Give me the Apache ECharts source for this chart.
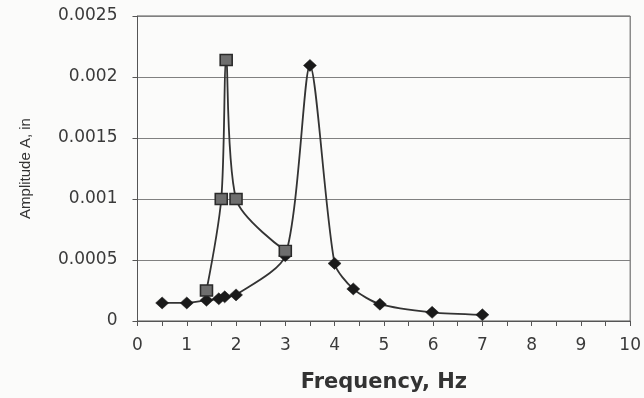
<!DOCTYPE html>
<html>
<head>
<meta charset="utf-8">
<script src="https://cdn.jsdelivr.net/npm/echarts@6/dist/echarts.min.js"></script>
<style>
html,body{margin:0;padding:0;background:#fbfbfa;}
#chart{width:644px;height:398px;}
</style>
</head>
<body>
<div id="chart"></div>
<script>
// Square-marker series (frequency Hz, amplitude in)
const squareFreq = [1.4, 1.7, 1.8, 2.0, 3.0];
const squareAmp  = [0.00025, 0.001, 0.00214, 0.001, 0.000575];
// Diamond-marker series
const diamondFreq = [0.5, 1.0, 1.4, 1.65, 1.77, 2.0, 3.0, 3.5, 4.0, 4.38, 4.92, 5.98, 7.0];
const diamondAmp  = [0.000148, 0.000148, 0.00017, 0.000182, 0.000198, 0.000214, 0.000535, 0.002095, 0.000472, 0.000263, 0.000138, 0.000071, 0.000051];
const xTicks = [0,1,2,3,4,5,6,7,8,9,10];
const yTicks = [0, 0.0005, 0.001, 0.0015, 0.002, 0.0025];

const pair = (xs, ys) => xs.map((x, i) => [x, ys[i]]);

const chart = echarts.init(document.getElementById('chart'), null, {renderer: 'canvas'});
chart.setOption({
  backgroundColor: '#fbfbfa',
  animation: false,
  grid: {left: 137.5, right: 13, top: 16, bottom: 75, show: true, borderColor: '#555', borderWidth: 1, containLabel: false},
  xAxis: {
    type: 'value', min: xTicks[0], max: xTicks[xTicks.length-1], interval: 1,
    name: 'Frequency, Hz', nameLocation: 'middle', nameGap: 51,
    nameTextStyle: {fontFamily: 'DejaVu Sans', fontWeight: 'bold', fontSize: 21, color: '#333'},
    axisLine: {show: true, onZero: false, lineStyle: {color: '#555', width: 1}},
    axisTick: {show: true, inside: false, length: 5, lineStyle: {color: '#555'}},
    minorTick: {show: true, splitNumber: 2, length: 5, lineStyle: {color: '#555'}},
    axisLabel: {fontFamily: 'DejaVu Sans', fontSize: 17, color: '#3a3a3a', margin: 16},
    splitLine: {show: false}
  },
  yAxis: {
    type: 'value', min: yTicks[0], max: yTicks[yTicks.length-1], interval: 0.0005,
    name: 'Amplitude A, in', nameLocation: 'middle', nameGap: 104,
    nameTextStyle: {fontFamily: 'Liberation Sans', fontSize: 15, color: '#333'},
    axisLine: {show: true, lineStyle: {color: '#555', width: 1}},
    axisTick: {show: true, inside: false, length: 5, lineStyle: {color: '#555'}},
    axisLabel: {fontFamily: 'DejaVu Sans', fontSize: 17, color: '#3a3a3a', margin: 20,
      formatter: v => yTicks.find(t => Math.abs(t - v) < 1e-9) !== undefined ? String(+v.toFixed(4)) : ''},
    splitLine: {show: true, lineStyle: {color: '#808080', width: 1}}
  },
  series: [
    {
      type: 'line', data: pair(diamondFreq, diamondAmp), smooth: 0.25,
      symbol: 'diamond', symbolSize: [13, 12],
      lineStyle: {color: '#333', width: 1.8},
      itemStyle: {color: '#1a1a1a', borderColor: '#1a1a1a', borderWidth: 0.5}
    },
    {
      type: 'line', data: pair(squareFreq, squareAmp), smooth: 0.3,
      symbol: 'rect', symbolSize: [12, 11],
      lineStyle: {color: '#333', width: 1.8},
      itemStyle: {color: '#6e6e6e', borderColor: '#2a2a2a', borderWidth: 1.5}
    }
  ]
});
</script>
</body>
</html>
